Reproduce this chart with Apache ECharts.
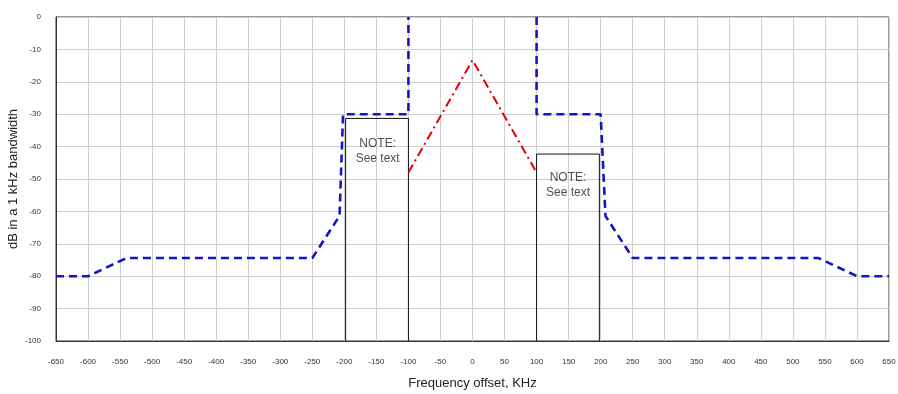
<!DOCTYPE html>
<html><head><meta charset="utf-8">
<script src="https://cdn.jsdelivr.net/npm/echarts@6/dist/echarts.min.js"></script>
<style>html,body{margin:0;padding:0;background:#fff}#c{width:898px;height:394px}</style>
</head><body><div id="c"></div>
<script>
const maskLeftX = [-650, -600, -540, -250, -207.5, -202, -100, -100];
const maskLeftY = [-80, -80, -74.4, -74.4, -61.4, -30, -30, 0];
const maskRightX = [100, 100, 200, 207.5, 250, 540, 600, 650];
const maskRightY = [0, -30, -30, -61.4, -74.4, -74.4, -80, -80];
const peakX = [-100, 0, 100];
const peakY = [-48, -13.3, -48];
const boxLeftX = [-198, -198, -100, -100];
const boxLeftY = [-100, -31.3, -31.3, -100];
const boxRightX = [100, 100, 198, 198];
const boxRightY = [-100, -42.3, -42.3, -100];
const noteX = [-148, 149];
const noteY = [-41.5, -52];
const noteText = 'NOTE:\nSee text';

const zip = (xs, ys) => xs.map((x, i) => [x, ys[i]]);
const chart = echarts.init(document.getElementById('c'));
const blue = {color: '#1515c8', width: 2.6, type: [8, 5]};
chart.setOption({
  animation: false,
  grid: {left: 56, right: 9, top: 17, bottom: 53, containLabel: false, outerBoundsMode: 'none',
         show: true, borderColor: '#333', borderWidth: 1},
  xAxis: {
    type: 'value', min: -650, max: 650, interval: 50,
    name: 'Frequency offset, KHz', nameLocation: 'middle', nameGap: 36, nameMoveOverlap: false,
    nameTextStyle: {fontFamily: 'Liberation Sans', fontSize: 13, color: '#222'},
    axisLine: {show: true, onZero: false, lineStyle: {color: '#333'}},
    axisTick: {show: false},
    axisLabel: {fontFamily: 'Liberation Sans', fontSize: 8, color: '#333', margin: 17},
    splitLine: {show: true, lineStyle: {color: '#cfcfcf', width: 1}}
  },
  yAxis: {
    type: 'value', min: -100, max: 0, interval: 10,
    name: 'dB in a 1 kHz bandwidth', nameLocation: 'middle', nameGap: 36, nameMoveOverlap: false,
    nameTextStyle: {fontFamily: 'Liberation Sans', fontSize: 13, color: '#222'},
    axisLine: {show: true, onZero: false, lineStyle: {color: '#333'}},
    axisTick: {show: false},
    axisLabel: {fontFamily: 'Liberation Sans', fontSize: 8, color: '#333', margin: 15},
    splitLine: {show: true, lineStyle: {color: '#cfcfcf', width: 1}}
  },
  series: [
    {type: 'line', data: zip(boxLeftX, boxLeftY), symbol: 'none', lineStyle: {color: '#111', width: 1}, z: 2},
    {type: 'line', data: zip(boxRightX, boxRightY), symbol: 'none', lineStyle: {color: '#111', width: 1}, z: 2},
    {type: 'line', data: zip(maskLeftX, maskLeftY), symbol: 'none', lineStyle: blue, z: 3},
    {type: 'line', data: zip(maskRightX, maskRightY), symbol: 'none', lineStyle: blue, z: 3},
    {type: 'line', data: zip(peakX, peakY), symbol: 'none', lineStyle: {color: '#e00000', width: 2, type: [9, 4, 2, 4]}, z: 3},
    {type: 'scatter', data: zip(noteX, noteY), symbolSize: 0, silent: true,
     label: {show: true, position: 'inside', formatter: noteText, fontFamily: 'Liberation Sans', fontSize: 12, lineHeight: 15, color: '#222', align: 'center'}}
  ]
});
</script></body></html>
